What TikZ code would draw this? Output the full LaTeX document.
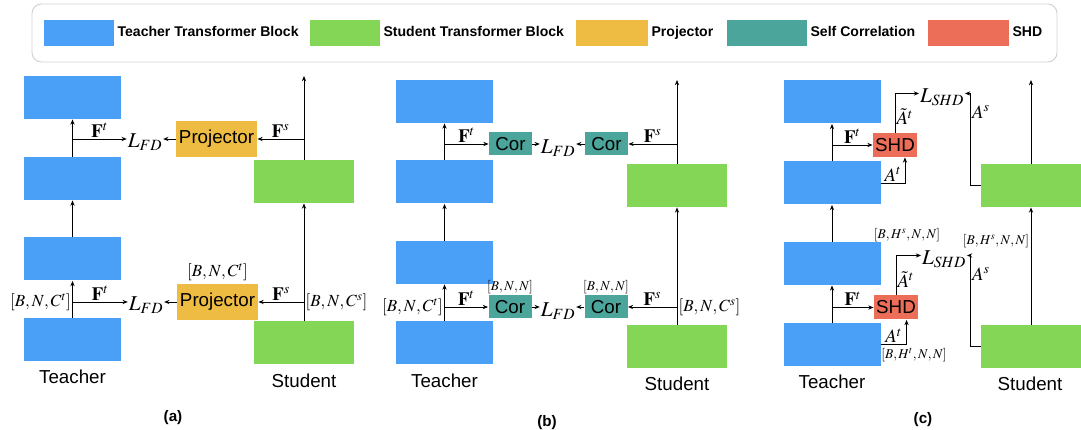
\documentclass[tikz,border=0pt]{standalone}
\usepackage{mathptmx}
\usepackage[no-math]{fontspec}
\setmainfont{Liberation Sans}
\usetikzlibrary{arrows.meta,positioning,calc}

\definecolor{tblue}{RGB}{74,160,246}
\definecolor{sgreen}{RGB}{132,214,86}
\definecolor{pyellow}{RGB}{238,188,66}
\definecolor{cteal}{RGB}{75,165,155}
\definecolor{hred}{RGB}{236,110,89}

\newcommand{\boxfont}{\fontsize{16}{18}\selectfont}

\begin{document}
\begin{tikzpicture}
  [x=0.03cm,y=-0.03cm,line width=0.7pt,>={Stealth[length=4.5pt,width=3.6pt]},
   tblock/.style={fill=tblue,minimum width=2.91cm,minimum height=1.29cm,inner sep=0},
   sblock/.style={fill=sgreen,minimum width=3cm,minimum height=1.29cm,inner sep=0},
   proj/.style={fill=pyellow,minimum width=2.43cm,minimum height=1.08cm,inner sep=0,font=\boxfont},
   cor/.style={fill=cteal,minimum width=1.29cm,minimum height=0.69cm,inner sep=0,font=\boxfont},
   shd/.style={fill=hred,minimum width=1.32cm,minimum height=0.72cm,inner sep=0,font=\boxfont},
   loss/.style={font=\fontsize{18}{20}\selectfont,inner sep=0.5pt},
   lbl/.style={font=\fontsize{16}{18}\selectfont,inner sep=1pt},
   dim/.style={font=\fontsize{14.5}{16}\selectfont,inner sep=1pt},
   smalldim/.style={font=\fontsize{11.5}{13}\selectfont,inner sep=1pt},
   caption/.style={font=\fontsize{16}{18}\selectfont},
   panel/.style={font=\bfseries\fontsize{13}{15}\selectfont},
   swatch/.style={minimum height=0.78cm,inner sep=0},
   legtxt/.style={font=\bfseries\fontsize{12}{14}\selectfont,inner sep=0pt,
     text height=8.7pt,text depth=2.6pt}]
  \useasboundingbox (0,0) rectangle (1081,430);

  % legend
  \draw[black!18,line width=0.8pt,rounded corners=8pt] (32,4) rectangle (1057,62);
  \foreach \nm/\px/\sw/\col/\txt in {tb/44/2.1cm/tblue/Teacher Transformer Block,
      sb/310/2.1cm/sgreen/Student Transformer Block,pj/576/2.16cm/pyellow/Projector,
      sc/727/2.4cm/cteal/Self Correlation,sh/928/2.43cm/hred/SHD}
  {
    \node[swatch,fill=\col,minimum width=\sw,anchor=west] (sw\nm) at (\px,33) {};
    \node[legtxt,right=2pt of sw\nm] (lg\nm) {\txt};
  }

  % (a) feature distillation with projector
  \node[tblock] (ta1) at (72.5,97.5) {};
  \node[tblock] (ta2) at (72.5,178.5) {};
  \node[tblock] (ta3) at (72.5,259) {};
  \node[tblock] (ta4) at (72.5,339.5) {};
  \node[sblock] (sa1) at (304,181.5) {};
  \node[sblock] (sa2) at (304,343) {};
  \coordinate (sa0) at (304,76);
  \node[proj] (pa1) at (216.5,139) {Projector};
  \node[proj] (pa2) at (217.5,302) {Projector};
  \node[loss] (la1) at (145,142) {$L_{FD}$};
  \node[loss] (la2) at (146,305) {$L_{FD}$};
  \foreach \from/\to in {ta2/ta1,ta3/ta2,ta4/ta3,sa2/sa1}
    \draw[->] (\from.north) -- (\to.south);
  \draw[->] (sa1.north) -- (sa0);
  \draw[->] (ta2.north |- pa1) -- node[lbl,above]{$\mathbf{F}^t$} (pa1 -| la1.west);
  \draw[->] (pa1.west) -- (pa1 -| la1.east);
  \draw[->] (sa1.north |- pa1) -- node[lbl,above]{$\mathbf{F}^s$} (pa1.east);
  \draw[->] (ta4.north |- pa2) -- node[lbl,above]{$\mathbf{F}^t$} (pa2 -| la2.west);
  \draw[->] (pa2.west) -- (pa2 -| la2.east);
  \draw[->] (sa2.north |- pa2) -- node[lbl,above]{$\mathbf{F}^s$} (pa2.east);
  \node[dim,left] (dta) at (ta4.north |- pa2) {$[B,N,C^t]$};
  \node[dim,above=1pt of pa2] (dpa) {$[B,N,C^t]$};
  \node[dim,right] (dsa) at (sa2.north |- pa2) {$[B,N,C^s]$};
  \node[caption] (cta) at (72.5,377) {Teacher};
  \node[caption] (csa) at (304,381) {Student};
  \node[panel] (pna) at (173,418) {(a)};

  % (b) self correlation
  \node[tblock] (tb1) at (444.5,101.5) {};
  \node[tblock] (tb2) at (444.5,182) {};
  \node[tblock] (tb3) at (444.5,262.5) {};
  \node[tblock] (tb4) at (444.5,343) {};
  \node[sblock] (sb1) at (677,185.5) {};
  \node[sblock] (sb2) at (677,347) {};
  \coordinate (sb0) at (677,80);
  \node[cor] (cb1) at (510.5,144) {Cor};
  \node[cor] (cs1) at (606.5,144) {Cor};
  \node[cor] (cb2) at (510,307) {Cor};
  \node[cor] (cs2) at (606,307) {Cor};
  \node[loss] (lb1) at (558,148) {$L_{FD}$};
  \node[loss] (lb2) at (558,311) {$L_{FD}$};
  \foreach \from/\to in {tb2/tb1,tb3/tb2,tb4/tb3,sb2/sb1}
    \draw[->] (\from.north) -- (\to.south);
  \draw[->] (sb1.north) -- (sb0);
  \draw[->] (tb2.north |- cb1) -- node[lbl,above]{$\mathbf{F}^t$} (cb1.west);
  \draw[->] (cb1.east) -- (cb1 -| lb1.west);
  \draw[->] (cs1.west) -- (cs1 -| lb1.east);
  \draw[->] (sb1.north |- cs1) -- node[lbl,above]{$\mathbf{F}^s$} (cs1.east);
  \draw[->] (tb4.north |- cb2) -- node[lbl,above]{$\mathbf{F}^t$} (cb2.west);
  \draw[->] (cb2.east) -- (cb2 -| lb2.west);
  \draw[->] (cs2.west) -- (cs2 -| lb2.east);
  \draw[->] (sb2.north |- cs2) -- node[lbl,above]{$\mathbf{F}^s$} (cs2.east);
  \node[dim,left] (dtb) at (tb4.north |- cb2) {$[B,N,C^t]$};
  \node[smalldim,above=0pt of cb2] (dcb) {$[B,N,N]$};
  \node[smalldim,above=0pt of cs2] (dcs) {$[B,N,N]$};
  \node[dim,right] (dsb) at (sb2.north |- cs2) {$[B,N,C^s]$};
  \node[caption] (ctb) at (444.5,381) {Teacher};
  \node[caption] (csb) at (677,384) {Student};
  \node[panel] (pnb) at (547,423) {(b)};

  % (c) SHD
  \node[tblock] (tc1) at (832,102) {};
  \node[tblock] (tc2) at (832,183) {};
  \node[tblock] (tc3) at (832,263.5) {};
  \node[tblock] (tc4) at (832,344.5) {};
  \node[sblock] (sc1) at (1031,185.5) {};
  \node[sblock] (sc2) at (1031,346.5) {};
  \coordinate (sc0) at (1031,80);
  \node[shd] (hc1) at (895,145) {SHD};
  \node[shd] (hc2) at (896,307.5) {SHD};
  \node[loss] (lc1) at (942,97) {$L_{SHD}$};
  \node[loss] (lc2) at (944,259) {$L_{SHD}$};
  \foreach \from/\to in {tc2/tc1,tc3/tc2,tc4/tc3,sc2/sc1}
    \draw[->] (\from.north) -- (\to.south);
  \draw[->] (sc1.north) -- (sc0);
  \draw[->] (tc2.north |- hc1) -- node[lbl,above]{$\mathbf{F}^t$} (hc1.west);
  \draw[->] (tc2.east) -| node[lbl,pos=0.25,above]{$A^t$} ([xshift=8.5pt]hc1.south);
  \draw[->] (hc1.north) |- node[lbl,pos=0.2,right]{$\tilde{A}^t$} ([yshift=3pt]lc1.west);
  \draw[->] (sc1.west) -- ++(-10,0) |- node[lbl,pos=0.4,right]{$A^s$} ([yshift=3pt]lc1.east);
  \draw[->] (tc4.north |- hc2) -- node[lbl,above]{$\mathbf{F}^t$} (hc2.west);
  \draw[->] (tc4.east) -| node[lbl,pos=0.25,above]{$A^t$} ([xshift=9pt]hc2.south);
  \draw[->] (hc2.north) |- node[lbl,pos=0.2,right]{$\tilde{A}^t$} ([yshift=3pt]lc2.west);
  \draw[->] (sc2.west) -- ++(-10,0) |- node[lbl,pos=0.4,right]{$A^s$} ([yshift=3pt]lc2.east);
  \node[smalldim] (dht) at (914,355) {$[B,H^t,N,N]$};
  \node[smalldim] (dhs) at (907,235) {$[B,H^s,N,N]$};
  \node[smalldim] (dss) at (996,241) {$[B,H^s,N,N]$};
  \node[caption] (ctc) at (832,382) {Teacher};
  \node[caption] (csc) at (1030,384) {Student};
  \node[panel] (pnc) at (923,420) {(c)};
\end{tikzpicture}
\end{document}
